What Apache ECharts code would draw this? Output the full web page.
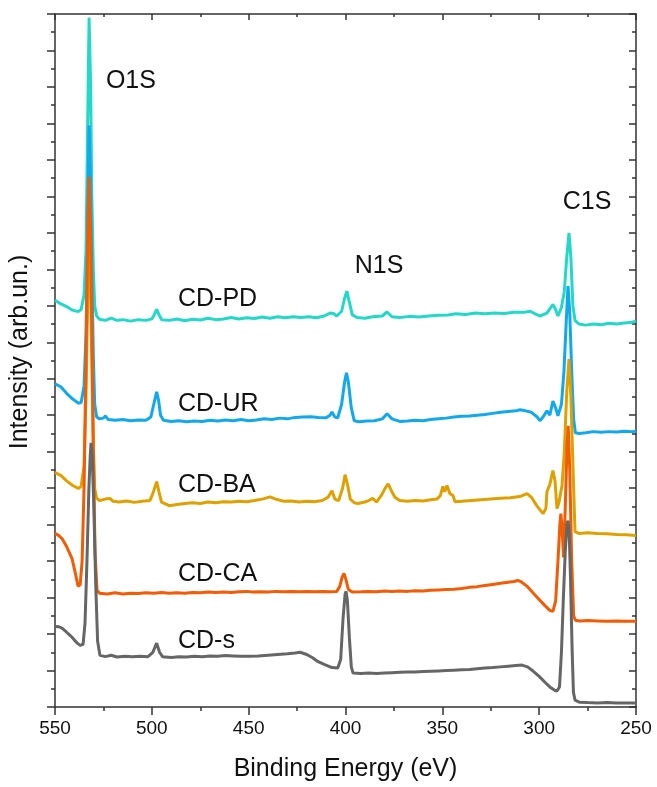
<!DOCTYPE html>
<html>
<head>
<meta charset="utf-8">
<script src="https://cdn.jsdelivr.net/npm/echarts@6/dist/echarts.min.js"></script>
<style>
html,body{margin:0;padding:0;background:#fff;}
#chart{width:657px;height:787px;}
</style>
</head>
<body>
<div id="chart"></div>
<script>
// Binding energy (eV) / intensity (arb. units, stacked offsets) pairs
const seriesNames = ['CD-PD', 'CD-UR', 'CD-BA', 'CD-CA', 'CD-s'];
const seriesColors = ['#22D8C8', '#12A8EE', '#E0A000', '#F25C05', '#666666'];

const cdPD = [[550,11.15],[547,11.05],[544,10.98],[541,10.88],[538,10.84],[536.5,10.9],[535,11.3],[534,12.5],[533,16.5],[532.4,18.9],[531.6,17.0],[531,14],[530.2,12.0],[529.5,11.0],[528.5,10.72],[527,10.63],[524,10.6],[521,10.66],[518,10.6],[515,10.62],[511,10.58],[507,10.62],[503,10.6],[500,10.64],[498.8,10.75],[497.5,10.9],[496.3,10.76],[495,10.62],[491,10.6],[487,10.64],[483,10.59],[479,10.63],[475,10.61],[471,10.66],[467,10.62],[463,10.64],[459,10.68],[455,10.64],[451,10.67],[447,10.65],[443,10.69],[439,10.66],[435,10.7],[431,10.67],[427,10.7],[423,10.68],[419,10.7],[415,10.67],[411,10.72],[408,10.8],[406,10.78],[404.5,10.72],[402,10.85],[400.5,11.2],[399.3,11.4],[398,11.1],[396.5,10.75],[394,10.68],[390,10.66],[386,10.7],[381,10.72],[378.6,10.83],[376,10.7],[372,10.68],[367,10.71],[362,10.69],[357,10.72],[352,10.74],[347,10.75],[343,10.78],[338,10.76],[333,10.8],[328,10.78],[323,10.8],[318,10.79],[313,10.82],[308,10.82],[304.7,10.85],[302,10.78],[299.6,10.72],[296,10.8],[292.9,11.04],[291.5,10.9],[290.3,10.72],[288.5,10.95],[287,11.4],[285.8,12.3],[284.6,13.0],[283.6,12.3],[282.6,11.0],[281.5,10.6],[279.5,10.5],[276,10.47],[272,10.5],[268,10.48],[264,10.52],[260,10.5],[256,10.53],[252,10.55],[250,10.58]];

const cdUR = [[550,8.86],[547,8.78],[544,8.6],[541,8.45],[538,8.33],[536.5,8.35],[535,8.8],[534,10.2],[533,13.8],[532.4,15.94],[531.6,14.2],[531,12],[530.2,9.6],[529.5,8.3],[528.5,7.95],[527,7.9],[525,7.92],[524,7.98],[522.5,7.88],[519,7.86],[515,7.88],[511,7.85],[507,7.87],[503,7.86],[500.5,7.95],[499,8.3],[497.5,8.64],[496.5,8.4],[495.5,8.0],[494,7.86],[490,7.83],[486,7.85],[482,7.82],[478,7.84],[474,7.83],[470,7.86],[466,7.84],[462,7.87],[458,7.85],[454,7.88],[450,7.85],[446,7.87],[442,7.9],[438,7.88],[434,7.92],[430,7.9],[426,7.94],[422,7.95],[418,7.96],[414,7.94],[410,7.93],[408,8.0],[407,8.09],[405.5,7.95],[404,7.93],[402,8.3],[400.5,8.9],[399.5,9.16],[398.5,8.9],[397,8.2],[395.5,7.85],[393,7.82],[389,7.84],[385,7.85],[381,7.9],[378.5,8.04],[376,7.9],[372,7.83],[368,7.84],[364,7.86],[360,7.85],[356,7.88],[352,7.9],[348,7.92],[344,7.95],[340,7.97],[336,7.98],[332,8.0],[328,8.02],[324,8.05],[320,8.08],[316,8.1],[312,8.12],[309.9,8.15],[307,8.12],[304,8.08],[301,7.95],[299.6,7.85],[298,7.95],[296,8.12],[294.5,8.0],[292.9,8.39],[291.5,8.2],[290.3,7.98],[288.5,8.3],[287.2,9.2],[286,10.6],[285.1,11.54],[284.2,10.8],[283.2,9.2],[282.2,7.9],[281.3,7.52],[279.5,7.5],[276,7.52],[272,7.55],[268,7.53],[264,7.55],[260,7.54],[256,7.56],[252,7.55],[250,7.56]];

const cdBA = [[550,6.43],[547,6.35],[544,6.2],[541,6.08],[538,5.99],[536.5,6.05],[535,6.6],[534,8.5],[533,11.5],[532.4,12.8],[531.6,11.5],[531,9.5],[530.2,7.2],[529.5,6.0],[528.5,5.72],[527,5.66],[524,5.7],[521.6,5.72],[520,5.64],[517,5.62],[513,5.65],[509,5.61],[505,5.64],[501,5.66],[499.5,5.85],[497.5,6.18],[496.3,5.9],[495,5.62],[491,5.52],[487,5.55],[483,5.58],[479,5.6],[475,5.58],[471,5.62],[467,5.6],[463,5.63],[459,5.62],[455,5.64],[451,5.63],[447,5.66],[443,5.7],[439,5.76],[436,5.7],[432,5.64],[428,5.65],[424,5.62],[420,5.64],[416,5.63],[412,5.66],[409,5.75],[407,5.93],[405.5,5.7],[403.5,5.66],[401.5,6.0],[400.2,6.37],[399,6.1],[397.5,5.7],[395.5,5.6],[393.5,5.58],[390,5.62],[388,5.66],[386,5.72],[384,5.62],[381.5,5.8],[379.5,6.0],[378,6.12],[376.5,5.95],[374.5,5.75],[372,5.66],[368,5.64],[364,5.66],[360,5.65],[356,5.68],[352.8,5.7],[351,5.8],[349.7,6.05],[348.8,5.9],[347.6,6.07],[346.1,5.85],[344.5,5.8],[343.5,5.63],[340,5.64],[335,5.66],[330,5.68],[325,5.7],[320,5.72],[315,5.74],[310,5.77],[306.3,5.85],[304,5.75],[301,5.5],[298,5.3],[296.5,5.45],[296,5.9],[294.5,6.1],[292.9,6.48],[291.8,6.2],[290.8,5.44],[289.8,5.6],[288.2,6.07],[287,7.0],[285.8,8.6],[284.6,9.54],[283.6,8.5],[282.5,6.5],[281.5,4.81],[279.5,4.76],[275,4.78],[270,4.76],[265,4.75],[260,4.73],[255,4.72],[250,4.7]];

const cdCA = [[550,4.76],[548,4.7],[546.4,4.62],[544,4.4],[541.2,4.07],[539.7,3.72],[538.1,3.31],[537,3.35],[536,4.0],[535,6.0],[534,9.5],[533,13.2],[532.4,14.54],[531.6,13.0],[531,10.5],[530.2,7.0],[529.3,4.2],[528.3,3.2],[527,3.12],[523,3.1],[519,3.13],[515,3.1],[511,3.12],[507,3.11],[503,3.13],[499,3.12],[495,3.14],[491,3.12],[487,3.13],[483,3.12],[479,3.14],[475,3.13],[471,3.15],[467,3.14],[463,3.15],[459,3.14],[455,3.16],[451,3.17],[450.3,3.2],[448,3.15],[444,3.16],[440,3.15],[436,3.17],[432,3.16],[428,3.17],[424,3.16],[420,3.17],[416,3.16],[412,3.17],[408,3.16],[404.5,3.17],[403,3.3],[401.8,3.55],[400.8,3.66],[399.8,3.5],[398.5,3.22],[396.5,3.15],[392,3.16],[388,3.17],[384,3.16],[380,3.18],[376,3.17],[372,3.18],[368,3.17],[364,3.19],[360,3.18],[356,3.2],[352,3.21],[348,3.22],[344,3.23],[340,3.25],[336,3.28],[332,3.3],[328,3.33],[324,3.36],[320,3.39],[316,3.42],[313,3.44],[311,3.47],[309.5,3.44],[306,3.3],[303,3.12],[300,2.95],[297,2.78],[294.5,2.65],[292.9,2.62],[291.5,2.9],[290.3,4.0],[289.3,5.0],[288.8,5.3],[288.2,4.9],[287.4,4.1],[286.5,5.5],[285.6,7.2],[285.0,7.71],[284.2,6.5],[283.2,4.0],[282.2,2.5],[281.3,2.38],[279,2.36],[275,2.37],[270,2.36],[265,2.35],[260,2.36],[255,2.35],[250,2.35]];

const cdS = [[550,2.21],[548,2.2],[546.4,2.16],[544,2.05],[541,1.9],[538.5,1.75],[537,1.69],[535.5,1.72],[534.5,2.3],[533.5,4.0],[532.5,6.0],[531.8,6.9],[531.4,7.24],[530.8,6.9],[530,5.6],[529,3.4],[528,1.8],[526.8,1.42],[524,1.38],[521,1.42],[518,1.37],[514,1.39],[510,1.38],[506,1.39],[502,1.38],[499.5,1.5],[497.5,1.75],[496,1.5],[494.5,1.38],[490,1.36],[486,1.38],[482,1.37],[478,1.39],[474,1.38],[470,1.4],[466,1.39],[462,1.41],[458,1.4],[454,1.39],[450,1.39],[445,1.4],[440,1.42],[435,1.44],[430,1.46],[426,1.48],[423.5,1.5],[420,1.44],[417,1.35],[414.7,1.26],[411,1.17],[407,1.08],[404,1.07],[402.5,1.3],[401.3,2.4],[400.2,3.1],[399.7,3.17],[399,2.9],[398,1.9],[397,1.1],[396.1,0.93],[392,0.92],[388,0.93],[384,0.92],[380,0.93],[376,0.94],[372,0.95],[368,0.96],[364,0.96],[360,0.97],[356,0.98],[352,0.99],[348,1.0],[344,1.01],[340,1.02],[336,1.03],[332,1.05],[328,1.07],[324,1.08],[320,1.1],[316,1.12],[312,1.14],[308.9,1.15],[306,1.1],[303,0.98],[300,0.84],[297,0.68],[294.5,0.55],[292,0.46],[290.8,0.44],[289.5,0.55],[288.5,1.5],[287.5,3.0],[286.5,4.3],[285.6,5.0],[285.1,5.11],[284.5,4.8],[283.8,3.5],[283.0,1.6],[282.3,0.4],[281.5,0.19],[279,0.13],[275,0.12],[270,0.11],[265,0.12],[260,0.11],[255,0.11],[250,0.11]];

const seriesData = [cdPD, cdUR, cdBA, cdCA, cdS];

// Annotation texts: [text, energy, intensity]  (peak labels centred, sample labels left-aligned)
const peakLabels = [['O1S', 510.8, 17.15], ['N1S', 382.7, 12.1], ['C1S', 275.3, 13.85]];
const sampleLabels = [['CD-PD', 486.5, 11.17], ['CD-UR', 486.5, 8.3], ['CD-BA', 486.5, 6.08], ['CD-CA', 486.5, 3.65], ['CD-s', 486.5, 1.8]];

const FONT = '"Liberation Sans", Arial, sans-serif';
const AXIS_COLOR = '#333';

const chart = echarts.init(document.getElementById('chart'));

const xCommon = {
  type: 'value', min: 250, max: 550, interval: 50, inverse: true,
  axisLine: { show: true, onZero: false, lineStyle: { color: AXIS_COLOR, width: 1.5 } },
  splitLine: { show: false }
};
const yCommon = {
  type: 'value', min: 0, max: 19, interval: 1,
  axisLine: { show: true, onZero: false, lineStyle: { color: AXIS_COLOR, width: 1.5 } },
  splitLine: { show: false },
  axisLabel: { show: false }
};

function addLabels() {
  const g = [];
  peakLabels.forEach(([t, e, v]) => {
    const p = chart.convertToPixel({ xAxisIndex: 0, yAxisIndex: 0 }, [e, v]);
    g.push({ type: 'text', x: p[0], y: p[1], z: 100,
      style: { text: t, fill: '#111', font: '25px ' + FONT, textAlign: 'center', textVerticalAlign: 'middle' } });
  });
  sampleLabels.forEach(([t, e, v]) => {
    const p = chart.convertToPixel({ xAxisIndex: 0, yAxisIndex: 0 }, [e, v]);
    g.push({ type: 'text', x: p[0], y: p[1], z: 100,
      style: { text: t, fill: '#111', font: '25px ' + FONT, textAlign: 'left', textVerticalAlign: 'middle' } });
  });
  // y-axis title
  g.push({ type: 'text', x: 20, y: 352, rotation: Math.PI / 2, z: 100,
    style: { text: 'Intensity (arb.un.)', fill: '#111', font: '25px ' + FONT, textAlign: 'center', textVerticalAlign: 'middle' } });
  chart.setOption({ graphic: g });
}

chart.setOption({
  animation: false,
  backgroundColor: '#fff',
  grid: { left: 55, right: 21, top: 14, bottom: 78 },
  xAxis: [
    Object.assign({}, xCommon, {
      position: 'bottom',
      name: 'Binding Energy (eV)', nameLocation: 'middle', nameGap: 50,
      nameTextStyle: { fontFamily: FONT, fontSize: 25, color: '#111' },
      axisTick: { show: true, inside: false, length: 8, lineStyle: { color: AXIS_COLOR, width: 1.5 } },
      minorTick: { show: true, splitNumber: 2, length: 4, lineStyle: { color: AXIS_COLOR, width: 1.5 } },
      axisLabel: { show: true, margin: 12, fontFamily: FONT, fontSize: 19, color: '#111' }
    }),
    Object.assign({}, xCommon, {
      position: 'top',
      axisTick: { show: true, inside: true, length: 6, lineStyle: { color: AXIS_COLOR, width: 1.5 } },
      minorTick: { show: true, splitNumber: 2, length: 3, lineStyle: { color: AXIS_COLOR, width: 1.5 } },
      axisLabel: { show: false }
    })
  ],
  yAxis: [
    Object.assign({}, yCommon, {
      position: 'left',
      axisTick: { show: true, inside: false, length: 8, lineStyle: { color: AXIS_COLOR, width: 1.5 } },
      minorTick: { show: true, splitNumber: 2, length: 4, lineStyle: { color: AXIS_COLOR, width: 1.5 } }
    }),
    Object.assign({}, yCommon, {
      position: 'right',
      axisTick: { show: true, inside: true, length: 7, lineStyle: { color: AXIS_COLOR, width: 1.5 } },
      minorTick: { show: true, splitNumber: 2, length: 4, lineStyle: { color: AXIS_COLOR, width: 1.5 } }
    })
  ],
  series: seriesNames.map((name, i) => ({
    name: name, type: 'line', xAxisIndex: 0, yAxisIndex: 0,
    data: seriesData[i], showSymbol: false, symbol: 'none', smooth: false,
    lineStyle: { color: seriesColors[i], width: 3 }, itemStyle: { color: seriesColors[i] },
    z: 2 + i
  }))
});
addLabels();
</script>
</body>
</html>
